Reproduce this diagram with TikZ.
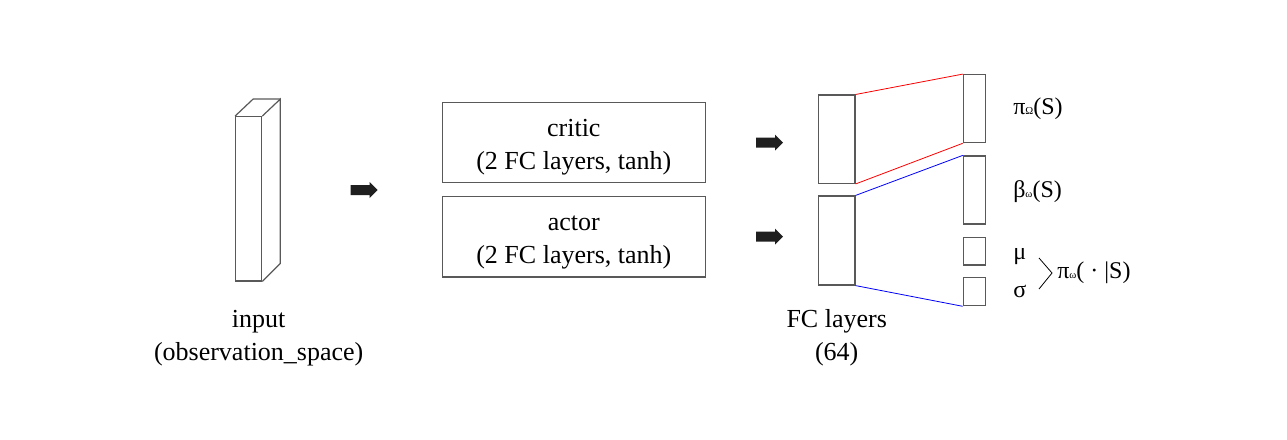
\documentclass[tikz,border=0pt]{standalone}
\usepackage{fontspec}
\setmainfont{Liberation Serif}
\usetikzlibrary{positioning}

\begin{document}
\begin{tikzpicture}[x=0.75pt,y=-0.75pt,
    layerbox/.style={draw=black!65,line width=0.9pt,inner sep=0pt},
    boxtext/.style={font=\fontsize{19.5}{24.75}\selectfont,align=center},
    outtext/.style={font=\fontsize{18}{20}\selectfont,anchor=base west,inner sep=0pt},
    blockarrow/.pic={\fill[black!88] (0,-5) -- (19,-5) -- (19,-8) -- (27,0) -- (19,8) -- (19,5) -- (0,5) -- cycle;}]
    \useasboundingbox (0,0) rectangle (1287,439);
    % input block
    \node[layerbox,minimum width=19.5pt,minimum height=123.2pt] (inp) at (248.7,198.8) {};
    \draw[layerbox] (inp.north east) -- ++(18,-17) coordinate (inptr) -- ++(0,164.3) -- (inp.south east);
    \draw[layerbox] (inp.north west) -- ++(18,-17) -- (inptr);
    \node[boxtext,inner sep=0pt,below=21pt of inp,xshift=7.5pt] (inplab) {input\\(observation\_space)};
    % arrows
    \pic at (350.7,190) {blockarrow};
    \pic at (756,142.7) {blockarrow};
    \pic at (756,236.7) {blockarrow};
    % critic and actor
    \node[layerbox,boxtext,minimum width=197.25pt,minimum height=60.4pt] (critic) at (573.8,142.5) {\rule{0pt}{19.5pt}critic\\(2 FC layers, tanh)};
    \node[layerbox,boxtext,minimum width=197.25pt,minimum height=60.4pt] (actor) at (573.8,236.7) {\rule{0pt}{19.5pt}actor\\(2 FC layers, tanh)};
    % FC layers
    \node[layerbox,minimum width=27.5pt,minimum height=66.2pt] (fc1) at (836.7,139.2) {};
    \node[layerbox,minimum width=27.5pt,minimum height=66.75pt] (fc2) at (836.7,240.5) {};
    \node[boxtext,inner sep=0pt,below=18pt of fc2] (fclab) {FC layers\\(64)};
    % outputs
    \node[layerbox,minimum width=16.8pt,minimum height=51pt] (piO) at (974.5,108.7) {};
    \node[layerbox,minimum width=16.8pt,minimum height=51pt] (beta) at (974.5,190) {};
    \node[layerbox,minimum width=16.8pt,minimum height=20.8pt] (mu) at (974.5,251.2) {};
    \node[layerbox,minimum width=16.8pt,minimum height=21pt] (sig) at (974.5,291.7) {};
    % connections
    \draw[red,line width=0.6pt] (fc1.north east) -- (piO.north west);
    \draw[red,line width=0.6pt] (fc1.south east) -- (piO.south west);
    \draw[blue,line width=0.6pt] (fc2.north east) -- (beta.north west);
    \draw[blue,line width=0.6pt] (fc2.south east) -- (sig.south west);
    % labels
    \node[outtext] (piOlab) at (1013,114) {π{\fontsize{8}{8}\selectfont Ω}(S)};
    \node[outtext] (betalab) at (1013,197) {β{\fontsize{8}{8}\selectfont ω}(S)};
    \node[outtext] (mulab) at (1013,259) {μ};
    \node[outtext] (siglab) at (1013,297) {σ};
    \coordinate (brtop) at (1039,258);
    \coordinate (brtip) at (1052,273);
    \coordinate (brbot) at (1039,289);
    \draw[line width=0.6pt] (brtop) -- (brtip) -- (brbot);
    \node[outtext] (pilab) at (1057,278) {π{\fontsize{8}{8}\selectfont ω}( · |S)};
\end{tikzpicture}
\end{document}
